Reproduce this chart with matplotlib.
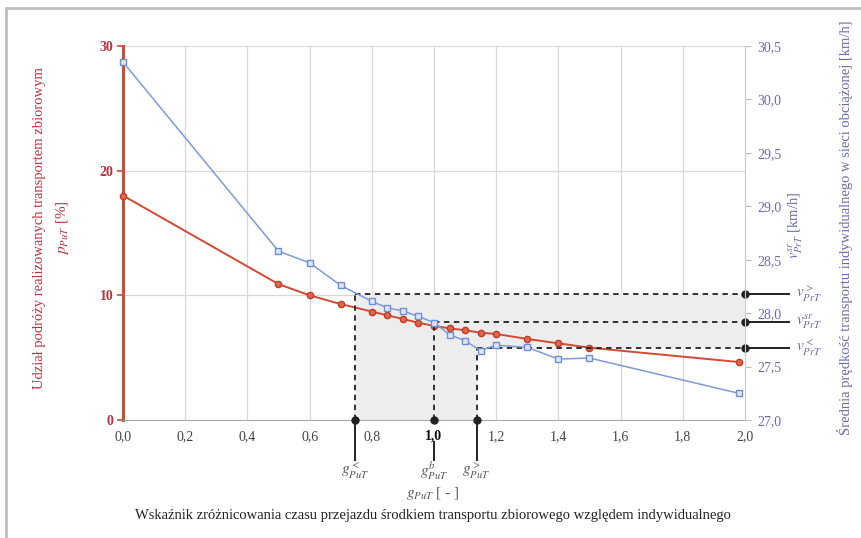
import matplotlib
matplotlib.use("Agg")
import matplotlib.pyplot as plt
from matplotlib.patches import Rectangle

# --- data ---
g_put = [0.0, 0.5, 0.6, 0.7, 0.8, 0.85, 0.9, 0.95, 1.0, 1.05, 1.1, 1.15, 1.2, 1.3, 1.4, 1.5, 1.98]
p_put = [18.0, 10.9, 10.0, 9.3, 8.7, 8.4, 8.1, 7.8, 7.55, 7.35, 7.2, 7.0, 6.9, 6.5, 6.15, 5.8, 4.65]
v_prt = [30.35, 28.58, 28.47, 28.26, 28.11, 28.05, 28.02, 27.97, 27.91, 27.80, 27.74, 27.65,
         27.70, 27.68, 27.57, 27.58, 27.25]

g_marks = [0.746, 1.0, 1.137]            # g<, g^b, g>
v_marks = [28.18, 27.92, 27.67]          # v>, v^sr, v<
g_labels = ["$g^{<}_{PuT}$", "$g^{b}_{PuT}$", "$g^{>}_{PuT}$"]
v_labels = ["$v^{>}_{PrT}$", "$v^{sr}_{PrT}$", "$v^{<}_{PrT}$"]

x_ticks = [0.0, 0.2, 0.4, 0.6, 0.8, 1.0, 1.2, 1.4, 1.6, 1.8, 2.0]
left_ticks = [0, 10, 20, 30]
right_ticks = [27.0, 27.5, 28.0, 28.5, 29.0, 29.5, 30.0, 30.5]

RED = "#d24a32"
RED_TXT = "#b8323f"
BLUE = "#7f9ad8"
BLUE_TXT = "#6b6ba8"
GRID = "#d8d8d8"

plt.rcParams["font.family"] = ["Liberation Serif", "DejaVu Serif"]
plt.rcParams["mathtext.fontset"] = "stix"

L0, L1 = 0, 30
R0, R1 = 27.0, 30.5


def r2l(v):
    # right-axis value -> left-axis units
    return (v - R0) / (R1 - R0) * (L1 - L0) + L0


fig = plt.figure(figsize=(8.62, 5.38), dpi=100)
fig.patches.append(Rectangle((6 / 862, -0.1), 1.2, 1 - 8 / 538 + 0.1, transform=fig.transFigure,
                             fill=False, edgecolor="#bdbdbd", lw=2.0))
ax = fig.add_axes([123 / 862, 1 - 420 / 538, (745 - 123) / 862, (420 - 46) / 538])
ax2 = ax.twinx()

ax.set_xlim(0, 2.0)
ax.set_ylim(L0, L1)
ax2.set_ylim(R0, R1)

# grid
for x in x_ticks[1:]:
    ax.axvline(x, color=GRID, lw=0.9, zorder=0)
for y in left_ticks[1:]:
    ax.axhline(y, color=GRID, lw=0.9, zorder=0)

# shaded region
gl, gb, gh = g_marks
vh, vs, vl = [r2l(v) for v in v_marks]
ax.fill([gl, gl, 2.0, 2.0, gh, gh], [0, vh, vh, vl, vl, 0], color="#ededed", zorder=0.5, lw=0)

# series
ax.plot(g_put, p_put, color=RED, lw=1.4, marker="o", ms=4.5, mfc="#e0674f",
        mec="#c23a24", zorder=3, clip_on=False)
ax2.plot(g_put, v_prt, color=BLUE, lw=1.1, marker="s", ms=4.5, mfc="#dde6f8",
         mec="#6f8fd2", mew=1.0, zorder=3, clip_on=False)

# dashed guides + black markers outside the plot area
for g, v in zip(g_marks, [vh, vs, vl]):
    ax.plot([g, g], [0, v], color="#222222", ls=(0, (3, 2.5)), lw=1.3, zorder=4)
    ax.plot([g, 2.0], [v, v], color="#222222", ls=(0, (3, 2.5)), lw=1.3, zorder=4)
    ax.plot([2.0], [v], "o", color="#222222", ms=5, zorder=6, clip_on=False)
    ax.plot([2.0, 2.14], [v, v], color="#222222", lw=1.4, zorder=6, clip_on=False)
for g, lab in zip(g_marks, g_labels):
    y_top = -1.8 if g == 1.0 else 0
    ax.plot([g], [0], "o", color="#222222", ms=5, zorder=6, clip_on=False)
    ax.plot([g, g], [y_top, -3.2], color="#222222", lw=1.4, zorder=6, clip_on=False)
    ax.text(g, -4.1, lab, ha="center", va="center", fontsize=11, color="#555555")
for v, lab in zip([vh, vs, vl], v_labels):
    ax.text(2.165, v, lab, ha="left", va="center", fontsize=11, color=BLUE_TXT)

# axes styling
ax.set_xticks(x_ticks)
ax.set_xticklabels([f"{x:.1f}".replace(".", ",") for x in x_ticks], fontsize=10, color="#444444")
ax.get_xticklabels()[5].set_fontweight("bold")
ax.get_xticklabels()[5].set_color("#111111")
ax.tick_params(axis="x", length=0, pad=7)
ax.set_yticks(left_ticks)
ax.set_yticklabels([str(t) for t in left_ticks], fontsize=10, color=RED_TXT, fontweight="bold")
ax.tick_params(axis="y", length=4, color=RED, width=1.2, pad=3)
ax2.set_yticks(right_ticks)
ax2.set_yticklabels([f"{t:.1f}".replace(".", ",") for t in right_ticks], fontsize=10, color=BLUE_TXT)
ax2.tick_params(axis="y", length=4, color="#bbbbbb", pad=5)

for a in (ax, ax2):
    a.spines["top"].set_visible(False)
ax.spines["left"].set_color(RED)
ax.spines["left"].set_linewidth(2.2)
ax.spines["bottom"].set_color("#aaaaaa")
ax.spines["right"].set_visible(False)
ax2.spines["left"].set_visible(False)
ax2.spines["bottom"].set_visible(False)
ax2.spines["right"].set_color("#cccccc")

# axis titles
fig.text(40 / 862, 1 - 228 / 538, "Udział podróży realizowanych transportem zbiorowym",
         rotation=90, ha="center", va="center", fontsize=10.5, color=RED_TXT)
fig.text(63 / 862, 1 - 228 / 538, "$p_{PuT}$ [%]", rotation=90, ha="center", va="center",
         fontsize=11, color=RED_TXT)
fig.text(845 / 862, 1 - 228 / 538,
         "Średnia prędkość transportu indywidualnego w sieci obciążonej [km/h]",
         rotation=90, ha="center", va="center", fontsize=10.5, color=BLUE_TXT)
fig.text(796 / 862, 1 - 225 / 538, "$v^{sr}_{PrT}$ [km/h]", rotation=90, ha="center", va="center",
         fontsize=10.5, color=BLUE_TXT)
fig.text(433 / 862, 1 - 494 / 538, "$g_{PuT}$ [ - ]", ha="center", va="center", fontsize=11,
         color="#555555")
fig.text(433 / 862, 1 - 516 / 538,
         "Wskaźnik zróżnicowania czasu przejazdu środkiem transportu zbiorowego względem indywidualnego",
         ha="center", va="center", fontsize=10.5, color="#222222")

fig.savefig("out.png", dpi=100)
